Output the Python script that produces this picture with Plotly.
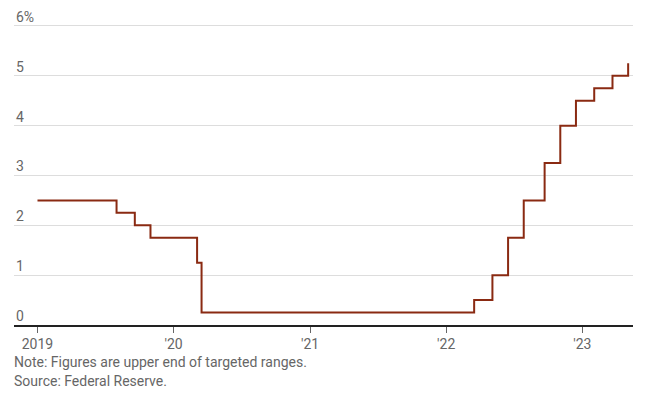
import plotly.graph_objects as go

dates = ["2019-01-01", "2019-08-01", "2019-09-19", "2019-10-31", "2020-03-04", "2020-03-16",
         "2022-03-17", "2022-05-05", "2022-06-16", "2022-07-28", "2022-09-22", "2022-11-03",
         "2022-12-15", "2023-02-02", "2023-03-23", "2023-05-04"]
rates = [2.50, 2.25, 2.00, 1.75, 1.25, 0.25, 0.50, 1.00, 1.75, 2.50, 3.25, 4.00, 4.50, 4.75, 5.00, 5.25]

y_ticks = [0, 1, 2, 3, 4, 5, 6]
y_labels = ["0", "1", "2", "3", "4", "5", "6%"]
x_ticks = ["2019-01-01", "2020-01-01", "2021-01-01", "2022-01-01", "2023-01-01"]
x_labels = ["2019", "'20", "'21", "'22", "'23"]

fig = go.Figure()
fig.add_trace(go.Scatter(x=dates, y=rates, mode="lines", line_shape="hv",
                         line=dict(color="#8a2a12", width=2), hoverinfo="skip"))

annotations = [
    dict(text=lab, xref="paper", yref="y", x=0, y=v, xanchor="left", yanchor="bottom",
         yshift=-1, showarrow=False, font=dict(size=14, color="#666666"))
    for v, lab in zip(y_ticks, y_labels)
]
annotations += [
    dict(text="Note: Figures are upper end of targeted ranges.", xref="paper", yref="paper",
         x=0, y=0, yshift=-37, xanchor="left", yanchor="middle", showarrow=False, xshift=-2,
         font=dict(size=14, color="#666666")),
    dict(text="Source: Federal Reserve.", xref="paper", yref="paper",
         x=0, y=0, yshift=-56, xanchor="left", yanchor="middle", showarrow=False, xshift=-2,
         font=dict(size=14, color="#666666")),
]

fig.update_layout(
    width=654, height=399,
    margin=dict(l=14, r=21, t=21, b=74, autoexpand=False),
    paper_bgcolor="white", plot_bgcolor="white",
    showlegend=False,
    font=dict(family="Roboto", size=14, color="#666666"),
    xaxis=dict(range=["2018-10-30", "2023-05-17"], tickvals=x_ticks, ticktext=x_labels,
               showgrid=False, showline=True, linecolor="#222222", linewidth=1.5,
               ticks="outside", ticklen=6, tickcolor="#666666", tickwidth=1,
               tickfont=dict(size=14, color="#666666"), zeroline=False, automargin=False),
    yaxis=dict(range=[0, 6.1], tickvals=y_ticks, showticklabels=False,
               showgrid=True, gridcolor="#dddddd", gridwidth=1, zeroline=False,
               ticks="", automargin=False),
    annotations=annotations,
)

fig.write_html("out.html", config={"displayModeBar": False, "staticPlot": True},
               post_script="document.body.style.margin='0';document.body.style.overflow='hidden';")
